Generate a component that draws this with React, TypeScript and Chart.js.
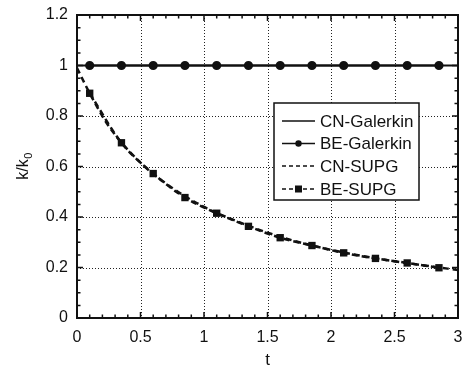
import React, { useEffect, useRef } from "react";
import { Chart, registerables } from "chart.js";

Chart.register(...registerables);

// ---- data ----
const tMarkers = [0.1, 0.35, 0.6, 0.85, 1.1, 1.35, 1.6, 1.85, 2.1, 2.35, 2.6, 2.85];
const beGalerkin = [1, 1, 1, 1, 1, 1, 1, 1, 1, 1, 1, 1];
const beSupg = [0.89, 0.694, 0.572, 0.477, 0.415, 0.363, 0.318, 0.287, 0.258, 0.236, 0.218, 0.199];
const cnGalerkinT = [0, 0.5, 1, 1.5, 2, 2.5, 3];
const cnGalerkin = [1, 1, 1, 1, 1, 1, 1];
const cnSupgT = [0, 0.1, 0.25, 0.5, 0.75, 1, 1.25, 1.5, 1.75, 2, 2.25, 2.5, 2.75, 3];
const cnSupg = [0.99, 0.89, 0.76, 0.615, 0.515, 0.44, 0.385, 0.338, 0.3, 0.27, 0.245, 0.225, 0.207, 0.19];
const legendLabels = ["CN-Galerkin", "BE-Galerkin", "CN-SUPG", "BE-SUPG"];
const xTickValues = [0, 0.5, 1, 1.5, 2, 2.5, 3];
const yTickValues = [0, 0.2, 0.4, 0.6, 0.8, 1, 1.2];
const xTitle = "t";
const yTitleMain = "k/k";
const yTitleSub = "0";

const FONT = '"Liberation Sans", Arial, Helvetica, sans-serif';
const INK = "#111";

const pts = (xs: number[], ys: number[]) => xs.map((x, i) => ({ x, y: ys[i] }));
const fmt = (v: any) => String(Number(Number(v).toFixed(2)));

const framePlugin = {
  id: "frameDecor",
  beforeDatasetsDraw(chart: any) {
    const { ctx, chartArea: a, scales } = chart;
    const x = scales.x, y = scales.y;
    ctx.save();
    ctx.setLineDash([1, 2]);
    ctx.strokeStyle = "#222";
    ctx.lineWidth = 1;
    xTickValues.slice(1, -1).forEach((v) => {
      const px = Math.round(x.getPixelForValue(v)) + 0.5;
      ctx.beginPath();
      ctx.moveTo(px, a.top);
      ctx.lineTo(px, a.bottom);
      ctx.stroke();
    });
    yTickValues.slice(1, -1).forEach((v) => {
      const py = Math.round(y.getPixelForValue(v)) + 0.5;
      ctx.beginPath();
      ctx.moveTo(a.left, py);
      ctx.lineTo(a.right, py);
      ctx.stroke();
    });
    ctx.restore();
  },
  afterDatasetsDraw(chart: any) {
    const { ctx, chartArea: a, scales } = chart;
    const x = scales.x, y = scales.y;
    ctx.save();
    ctx.setLineDash([]);
    ctx.strokeStyle = INK;
    ctx.lineWidth = 2;
    ctx.strokeRect(a.left, a.top, a.right - a.left, a.bottom - a.top);
    ctx.lineWidth = 1.5;
    for (let i = 0; i <= 30; i++) {
      const px = x.getPixelForValue(i * 0.1);
      const len = i % 5 === 0 ? 6 : 3.5;
      ctx.beginPath();
      ctx.moveTo(px, a.bottom);
      ctx.lineTo(px, a.bottom - len);
      ctx.moveTo(px, a.top);
      ctx.lineTo(px, a.top + len);
      ctx.stroke();
    }
    for (let i = 0; i <= 24; i++) {
      const py = y.getPixelForValue(i * 0.05);
      const len = i % 4 === 0 ? 6 : 3.5;
      ctx.beginPath();
      ctx.moveTo(a.left, py);
      ctx.lineTo(a.left + len, py);
      ctx.moveTo(a.right, py);
      ctx.lineTo(a.right - len, py);
      ctx.stroke();
    }
    ctx.restore();
  },
  afterDraw(chart: any) {
    const { ctx, chartArea: a } = chart;
    ctx.save();
    // axis titles
    ctx.fillStyle = INK;
    ctx.font = `17px ${FONT}`;
    ctx.textAlign = "center";
    ctx.textBaseline = "alphabetic";
    ctx.fillText(xTitle, (a.left + a.right) / 2, 365);

    ctx.translate(22, (a.top + a.bottom) / 2);
    ctx.rotate(-Math.PI / 2);
    ctx.font = `16px ${FONT}`;
    const w1 = ctx.measureText(yTitleMain).width;
    ctx.font = `11px ${FONT}`;
    const w2 = ctx.measureText(yTitleSub).width;
    const start = -(w1 + w2) / 2;
    ctx.textAlign = "left";
    ctx.font = `16px ${FONT}`;
    ctx.fillText(yTitleMain, start, 6);
    ctx.font = `11px ${FONT}`;
    ctx.fillText(yTitleSub, start + w1 + 0.5, 10);
    ctx.restore();

    // legend
    ctx.save();
    const bx = 274, by = 103, bw = 145, bh = 97;
    ctx.fillStyle = "#fff";
    ctx.fillRect(bx, by, bw, bh);
    ctx.strokeStyle = INK;
    ctx.lineWidth = 1.5;
    ctx.strokeRect(bx, by, bw, bh);
    const rows = [121, 143.5, 166, 189];
    const x0 = 282, x1 = 315, xm = (x0 + x1) / 2;
    legendLabels.forEach((label, i) => {
      const yy = rows[i];
      ctx.strokeStyle = INK;
      ctx.fillStyle = INK;
      ctx.lineWidth = 1.5;
      ctx.setLineDash(i >= 2 ? [4, 3] : []);
      ctx.beginPath();
      ctx.moveTo(x0, yy);
      ctx.lineTo(x1, yy);
      ctx.stroke();
      ctx.setLineDash([]);
      if (i === 1) {
        ctx.beginPath();
        ctx.arc(xm, yy, 3.2, 0, Math.PI * 2);
        ctx.fill();
      }
      if (i === 3) {
        ctx.fillRect(xm - 3.5, yy - 3.5, 7, 7);
      }
      ctx.font = `17px ${FONT}`;
      ctx.textAlign = "left";
      ctx.textBaseline = "middle";
      ctx.fillText(label, 320, yy + 1);
    });
    ctx.restore();
  },
};

export default function App() {
  const ref = useRef<HTMLCanvasElement | null>(null);
  useEffect(() => {
    if (!ref.current) return;
    const chart = new Chart(ref.current, {
      type: "line",
      data: {
        datasets: [
          {
            label: legendLabels[0],
            data: pts(cnGalerkinT, cnGalerkin),
            borderColor: INK,
            borderWidth: 2,
            pointRadius: 0,
            fill: false,
          },
          {
            label: legendLabels[1],
            data: pts(tMarkers, beGalerkin),
            borderColor: INK,
            backgroundColor: INK,
            borderWidth: 2,
            pointRadius: 3.6,
            pointStyle: "circle",
            pointBackgroundColor: INK,
            pointBorderColor: INK,
            fill: false,
          },
          {
            label: legendLabels[2],
            data: pts(cnSupgT, cnSupg),
            borderColor: INK,
            borderWidth: 2.5,
            borderDash: [6, 4],
            pointRadius: 0,
            cubicInterpolationMode: "monotone",
            fill: false,
          },
          {
            label: legendLabels[3],
            data: pts(tMarkers, beSupg),
            borderColor: INK,
            backgroundColor: INK,
            borderWidth: 2.5,
            borderDash: [6, 4],
            pointRadius: 5.2,
            pointStyle: "rect",
            pointBackgroundColor: INK,
            pointBorderColor: INK,
            pointBorderWidth: 0,
            cubicInterpolationMode: "monotone",
            fill: false,
          },
        ],
      },
      options: {
        animation: false,
        responsive: true,
        maintainAspectRatio: false,
        layout: { padding: { top: 15, right: 5, left: 0, bottom: 0 } },
        plugins: { legend: { display: false }, tooltip: { enabled: false } },
        scales: {
          x: {
            type: "linear",
            min: 0,
            max: 3,
            grid: { display: false, drawTicks: false },
            border: { display: false },
            ticks: {
              stepSize: 0.5,
              color: INK,
              padding: 10,
              maxRotation: 0,
              font: { family: FONT, size: 16 },
              callback: (v: any) => fmt(v),
            },
            afterFit: (s: any) => {
              s.height = 52;
              s.paddingLeft = 0;
              s.paddingRight = 0;
            },
          },
          y: {
            type: "linear",
            min: 0,
            max: 1.2,
            grid: { display: false, drawTicks: false },
            border: { display: false },
            ticks: {
              stepSize: 0.2,
              color: INK,
              padding: 9,
              font: { family: FONT, size: 16 },
              callback: (v: any) => fmt(v),
            },
            afterFit: (s: any) => {
              s.width = 77;
              s.paddingTop = 0;
              s.paddingBottom = 0;
            },
          },
        },
      },
      plugins: [framePlugin],
    } as any);
    return () => chart.destroy();
  }, []);
  return (
    <div style={{ position: "fixed", left: 0, top: 0, width: 464, height: 370, background: "#fff" }}>
      <canvas ref={ref} />
    </div>
  );
}
